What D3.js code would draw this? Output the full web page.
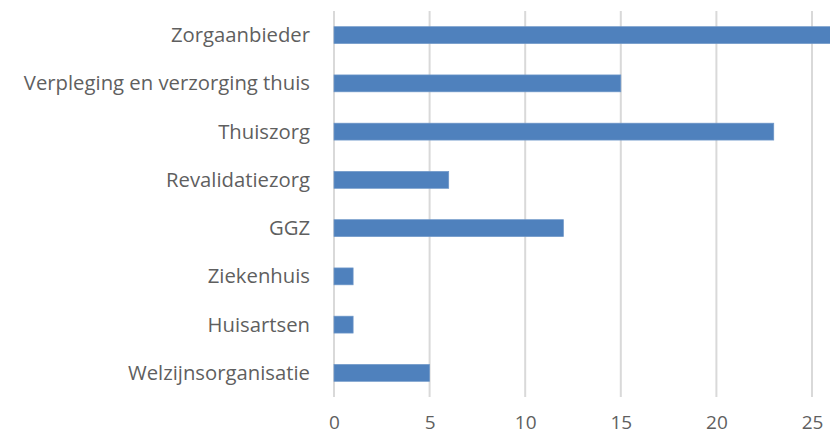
<!DOCTYPE html>
<html>
<head>
<meta charset="utf-8">
<script src="https://cdn.jsdelivr.net/npm/d3@7"></script>
<style>
  body { margin: 0; background: #fff; }
  svg text { font-family: "Open Sans", sans-serif; fill: #5f5f5f; }
</style>
</head>
<body>
<svg id="chart" width="830" height="435"></svg>
<script>
// data
var categories = ["Zorgaanbieder", "Verpleging en verzorging thuis", "Thuiszorg", "Revalidatiezorg",
                  "GGZ", "Ziekenhuis", "Huisartsen", "Welzijnsorganisatie"];
var values = [27, 15, 23, 6, 12, 1, 1, 5];
var xTicks = [0, 5, 10, 15, 20, 25];

var svg = d3.select("#chart");
var margin = {top: 11, left: 334, bottom: 38};
var height = 435;

var x = d3.scaleLinear().domain([0, 25]).range([margin.left, 812]);
var y = d3.scaleBand().domain(categories).range([margin.top, height - margin.bottom]).paddingInner(0.65).paddingOuter(0.325);

// grille verticale
svg.append("g").selectAll("line")
    .data(xTicks)
    .enter().append("line")
    .attr("x1", function(d){ return x(d); })
    .attr("x2", function(d){ return x(d); })
    .attr("y1", margin.top)
    .attr("y2", height - margin.bottom)
    .style("stroke", "#d9d9d9")
    .style("stroke-width", 2);

// barres
svg.append("g").selectAll("rect")
    .data(values)
    .enter().append("rect")
    .attr("x", x(0))
    .attr("y", function(d, i){ return y(categories[i]); })
    .attr("width", function(d){ return x(d) - x(0); })
    .attr("height", y.bandwidth())
    .style("fill", "#4f81bd")
    .style("stroke", "#6f97c8")
    .style("stroke-width", 0.7);

// labels categories
svg.append("g").selectAll("text")
    .data(categories)
    .enter().append("text")
    .attr("x", 310)
    .attr("y", function(d){ return y(d) + y.bandwidth() / 2; })
    .attr("dy", "0.35em")
    .attr("text-anchor", "end")
    .style("font-size", "20.3px")
    .text(function(d){ return d; });

// axe x
var xAxis = d3.axisBottom(x).tickValues(xTicks).tickSize(0).tickPadding(0);
var gx = svg.append("g").attr("transform", "translate(0," + 422 + ")").call(xAxis);
gx.select(".domain").remove();
gx.selectAll("text")
    .attr("dy", "0.35em")
    .style("font-size", "19px")
    .style("font-family", "'Open Sans', sans-serif")
    .style("fill", "#5f5f5f");
</script>
</body>
</html>
